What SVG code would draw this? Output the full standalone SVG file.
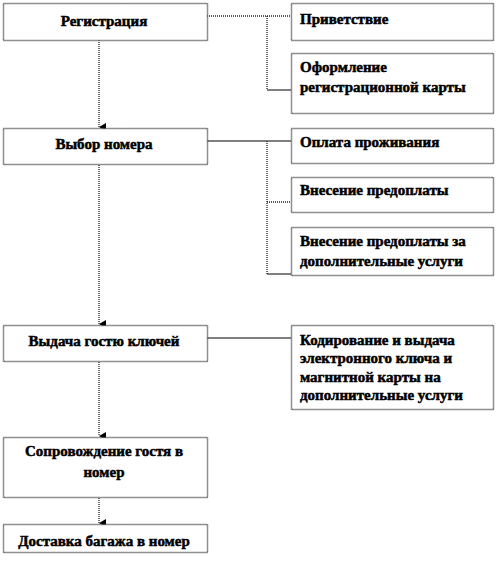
<svg xmlns="http://www.w3.org/2000/svg" width="498" height="563" viewBox="0 0 498 563">
<style>
.box{fill:#fff;stroke:#222;stroke-width:1.5;stroke-dasharray:1 1}
.t{font-family:"Liberation Serif","Times New Roman","DejaVu Serif",serif;font-weight:bold;font-size:15px;fill:#000;stroke:#000;stroke-width:0.5}
.c{text-anchor:middle}
.dot{fill:none;stroke:#222;stroke-width:1.3;stroke-dasharray:1 1}
.sol{fill:none;stroke:#000;stroke-width:1}
</style>
<defs>
<marker id="ah" viewBox="0 0 8 8" refX="4" refY="8" markerWidth="8" markerHeight="8" markerUnits="userSpaceOnUse" orient="auto-start-reverse">
<path d="M0,1 L8,1 L4,8 Z" fill="#000"/>
</marker>
</defs>
<rect width="498" height="563" fill="#fff"/>
<g id="connectors">
<line class="dot" x1="99" y1="40" x2="99" y2="127" marker-end="url(#ah)"/>
<line class="dot" x1="99" y1="165" x2="99" y2="324" marker-end="url(#ah)"/>
<line class="dot" x1="99" y1="362" x2="99" y2="436" marker-end="url(#ah)"/>
<line class="dot" x1="99" y1="498" x2="99" y2="523" marker-end="url(#ah)"/>
<polyline class="dot" points="207,16 291,16"/>
<polyline class="dot" points="267,16 267,90"/>
<line class="sol" x1="267" y1="90" x2="291" y2="90"/>
<line class="sol" x1="207" y1="141" x2="291" y2="141"/>
<polyline class="dot" points="267,141 267,274"/>
<line class="dot" x1="267" y1="202" x2="291" y2="202"/>
<line class="sol" x1="267" y1="274" x2="291" y2="274"/>
<line class="sol" x1="207" y1="338" x2="291" y2="338"/>
</g>
<g id="n1"><rect class="box" x="3.5" y="3.5" width="204" height="37"/><text class="t c" x="104" y="26">Регистрация</text></g>
<g id="n2"><rect class="box" x="3.5" y="128.5" width="204" height="36"/><text class="t c" x="104" y="149">Выбор номера</text></g>
<g id="n3"><rect class="box" x="3.5" y="325.5" width="204" height="36"/><text class="t c" x="104" y="346">Выдача гостю ключей</text></g>
<g id="n4"><rect class="box" x="3.5" y="437.5" width="204" height="60"/><text class="t c" x="104" y="456">Сопровождение гостя в</text><text class="t c" x="104" y="477">номер</text></g>
<g id="n5"><rect class="box" x="3.5" y="524.5" width="204" height="28"/><text class="t c" x="104" y="546">Доставка багажа в номер</text></g>
<g id="r1"><rect class="box" x="291.5" y="3.5" width="202" height="37"/><text class="t" x="300" y="24">Приветствие</text></g>
<g id="r2"><rect class="box" x="291.5" y="53.5" width="202" height="60"/><text class="t" x="300" y="72">Оформление</text><text class="t" x="300" y="92">регистрационной карты</text></g>
<g id="r3"><rect class="box" x="291.5" y="128.5" width="202" height="35"/><text class="t" x="300" y="147">Оплата проживания</text></g>
<g id="r4"><rect class="box" x="291.5" y="177.5" width="202" height="35"/><text class="t" x="300" y="195">Внесение предоплаты</text></g>
<g id="r5"><rect class="box" x="291.5" y="227.5" width="202" height="48"/><text class="t" x="300" y="246">Внесение предоплаты за</text><text class="t" x="300" y="266">дополнительные услуги</text></g>
<g id="r6"><rect class="box" x="291.5" y="325.5" width="202" height="84"/><text class="t" x="300" y="345">Кодирование и выдача</text><text class="t" x="300" y="363">электронного ключа и</text><text class="t" x="300" y="382">магнитной карты на</text><text class="t" x="300" y="400">дополнительные услуги</text></g>
</svg>
